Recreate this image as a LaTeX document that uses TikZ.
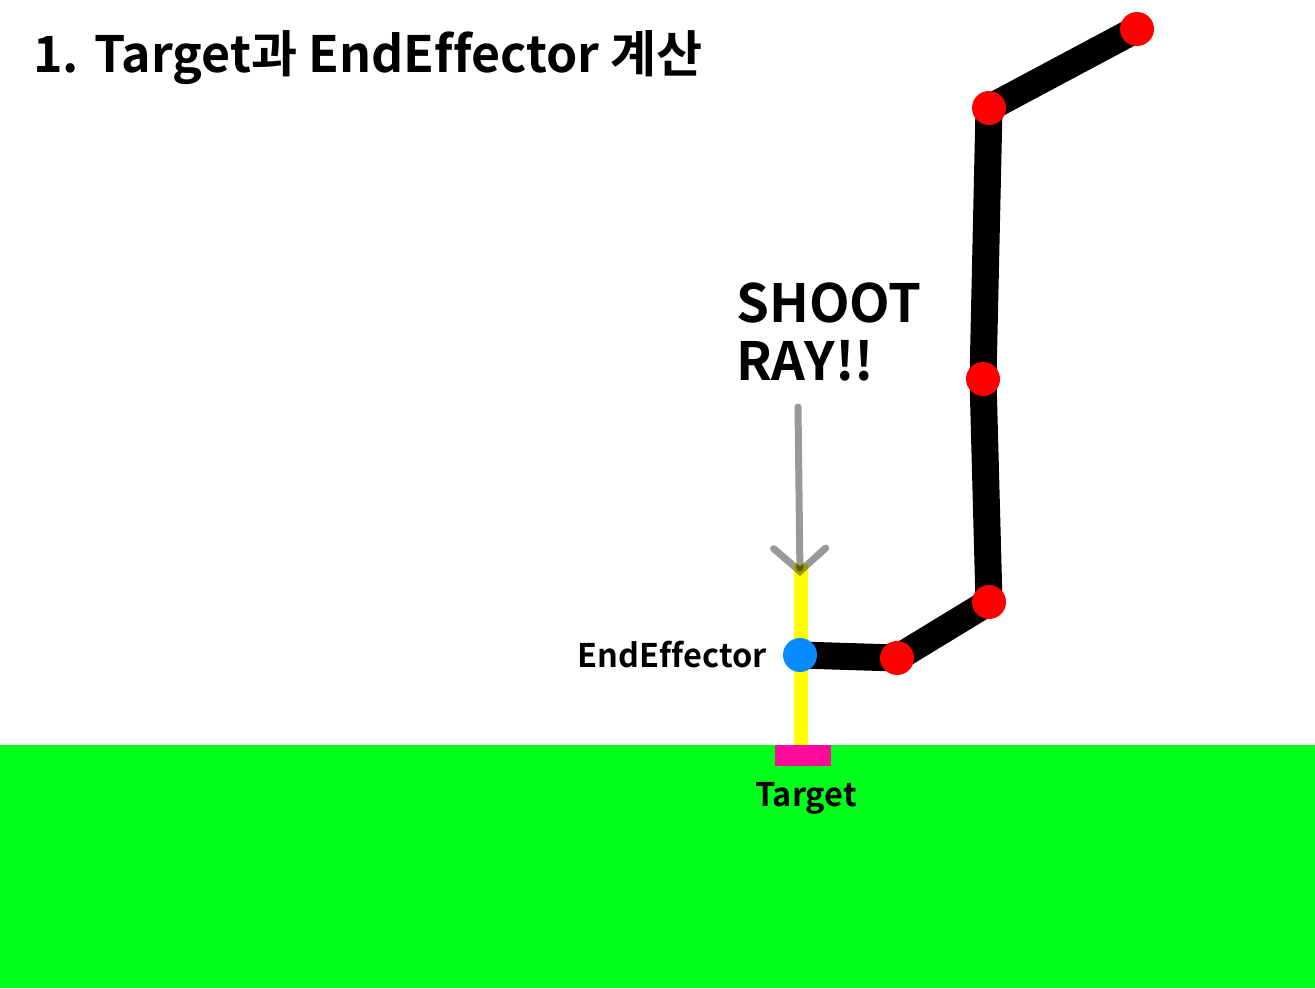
\documentclass[tikz,border=0pt]{standalone}
\usepackage{fontspec}
\setmainfont{Noto Sans CJK KR}[BoldFont={Noto Sans CJK KR Bold}, Ligatures=NoCommon]
\usetikzlibrary{arrows.meta, backgrounds}
\definecolor{clrGround}{HTML}{00FF1A}
\definecolor{clrTarget}{HTML}{FF0A9A}
\definecolor{clrRay}   {HTML}{FFFF00}
\definecolor{clrEnd}   {HTML}{0A8AFF}
\definecolor{clrJoint} {HTML}{FF0000}
\tikzset{
  joint/.style = {
    circle, fill=clrJoint, inner sep=0pt, minimum size=6.8mm,
  },
  effector/.style = {joint, fill=clrEnd},
  link/.style  = {line width=5.4mm, black, line join=bevel},
  ray/.style   = {line width=2.8mm, clrRay},
  shoot/.style = {-{Straight Barb[length=4.6mm, width=10.4mm, line cap=round]},
                  line width=1.4mm, black, opacity=0.4, line cap=round},
  lbl/.style   = {font=\bfseries\fontsize{18.5}{21}\selectfont, inner sep=0pt},
}

\begin{document}
\begin{tikzpicture}[x=0.2mm, y=-0.2mm]

\useasboundingbox (0,0) rectangle (1315,988);
\begin{scope}[on background layer]
  \fill[white] (0,0) rectangle (1315,988);
\end{scope}

% ══════════════════════════════════════════════════════════════════════════
%  Ground and target
% ══════════════════════════════════════════════════════════════════════════

\fill[clrGround] (0,745) rectangle (1315,988);
\node[fill=clrTarget, minimum width=11.2mm, minimum height=4.2mm,
      inner sep=0pt, anchor=north] (tgt) at (803,745) {};
\node[lbl, anchor=north] (tgtlbl) at (806,782) {Target};

% ══════════════════════════════════════════════════════════════════════════
%  Arm joints
% ══════════════════════════════════════════════════════════════════════════

\node[effector] (ee) at (800,655) {};
\node[joint]    (j1) at (897,658) {};
\node[joint]    (j2) at (989,602) {};
\node[joint]    (j3) at (983,379) {};
\node[joint]    (j4) at (989,108) {};
\node[joint]    (j5) at (1137,29) {};

\node[lbl, anchor=east] (eelbl) at (767,655) {EndEffector};

% links + ray go under the joints
\begin{scope}[on background layer]
  \coordinate (rayTop) at (801,564);
  \draw[ray]  (tgt.north -| rayTop) -- (rayTop);
  \draw[link] (ee.center) -- (j1.center) -- (j2.center)
              -- (j3.center) -- (j4.center) -- (j5.center);
\end{scope}

% ══════════════════════════════════════════════════════════════════════════
%  Ray label + arrow
% ══════════════════════════════════════════════════════════════════════════

\node[font=\bfseries\fontsize{30}{33.5}\selectfont, align=left,
      inner sep=0pt, anchor=north west] (shootlbl) at (736,282)
  {SHOOT\\RAY!!};
\coordinate (rayStart) at (798,407);
\coordinate (rayHit)   at (800,576);
\draw[shoot] (rayStart) -- (rayHit);

% ══════════════════════════════════════════════════════════════════════════
%  Title
% ══════════════════════════════════════════════════════════════════════════

\node[font=\bfseries\fontsize{28.5}{32}\selectfont, inner sep=0pt,
      anchor=base west] (title) at (33,72) {1. Target과 EndEffector 계산};

\end{tikzpicture}
\end{document}
